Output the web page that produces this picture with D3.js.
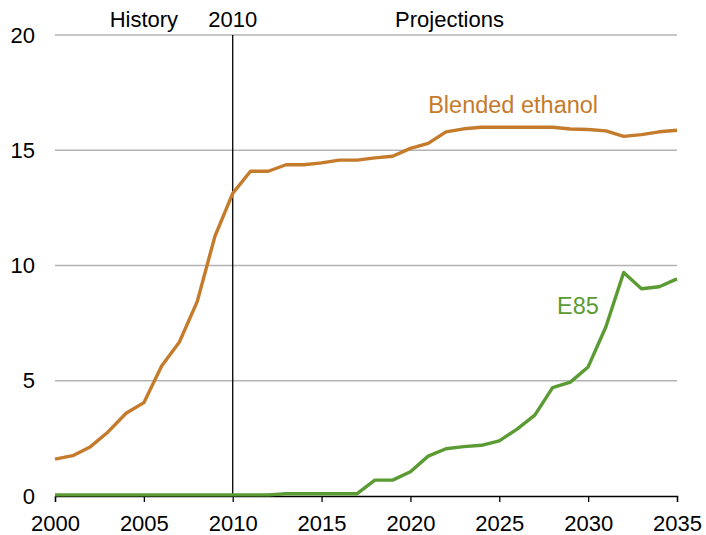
<!DOCTYPE html>
<html>
<head>
<meta charset="utf-8">
<script src="https://cdn.jsdelivr.net/npm/d3@7"></script>
<style>
  body { margin: 0; background: #fff; }
  text { font-family: "Liberation Sans", Arial, sans-serif; }
</style>
</head>
<body>
<div id="chart"></div>
<script>
// Years and series values
const years = d3.range(2000, 2036);
const blended = [1.6, 1.75, 2.14, 2.79, 3.59, 4.05, 5.64, 6.68, 8.43, 11.27,
    13.13, 14.09, 14.09, 14.37, 14.37, 14.45, 14.57, 14.57, 14.67, 14.74,
    15.08, 15.3, 15.8, 15.93, 16.0, 16.0, 16.0, 16.0, 16.0, 15.92,
    15.9, 15.84, 15.6, 15.68, 15.8, 15.87];
const e85 = [0.05, 0.05, 0.05, 0.05, 0.05, 0.05, 0.05, 0.05, 0.05, 0.05,
    0.05, 0.05, 0.05, 0.1, 0.1, 0.1, 0.1, 0.1, 0.69, 0.69,
    1.05, 1.73, 2.05, 2.14, 2.2, 2.39, 2.9, 3.51, 4.7, 4.94,
    5.6, 7.34, 9.7, 8.99, 9.08, 9.42];
const yTicks = [0, 5, 10, 15, 20];
const xTicks = [2000, 2005, 2010, 2015, 2020, 2025, 2030, 2035];

const width = 706;
const height = 535;
const margin = {top: 35, right: 29, bottom: 39, left: 55};
const w = width - margin.left - margin.right;
const h = height - margin.top - margin.bottom;

const x = d3.scaleLinear().domain([2000, 2035]).range([0, w]);
const y = d3.scaleLinear().domain([0, 20]).range([h, 0]);

const svg = d3.select("#chart")
    .append("svg")
    .attr("width", width)
    .attr("height", height)
    .append("g")
    .attr("transform", `translate(${margin.left}, ${margin.top})`);

// gridlines
svg.selectAll("line.grid")
    .data(yTicks.filter(d => d > 0))
    .enter()
    .append("line")
    .attr("class", "grid")
    .attr("x1", 0)
    .attr("x2", w)
    .attr("y1", d => y(d))
    .attr("y2", d => y(d))
    .style("stroke", "#b3b3b3")
    .style("stroke-width", 1.3);

// y labels
svg.selectAll("text.ylab")
    .data(yTicks)
    .enter()
    .append("text")
    .attr("class", "ylab")
    .attr("x", -20)
    .attr("y", d => y(d))
    .attr("dy", "0.35em")
    .attr("text-anchor", "end")
    .style("font-size", "22px")
    .text(d => d);

// x axis
const xAxis = svg.append("g")
    .attr("transform", `translate(0, ${h})`)
    .call(d3.axisBottom(x).tickValues(xTicks).tickFormat(d3.format("d")).tickSize(6).tickPadding(13));
xAxis.select(".domain").style("stroke", "#000").style("stroke-width", 1.3);
xAxis.selectAll(".tick line").style("stroke", "#000").style("stroke-width", 1.3);
xAxis.selectAll(".tick text")
    .style("font-size", "22px")
    .style("font-family", "Liberation Sans, Arial, sans-serif")
    .style("fill", "#000");

// 2010 divider
svg.append("line")
    .attr("x1", x(2010))
    .attr("x2", x(2010))
    .attr("y1", y(20))
    .attr("y2", y(0))
    .style("stroke", "#000")
    .style("stroke-width", 1.3);

// header labels
svg.append("text").attr("x", x(2005)).attr("y", -8).attr("text-anchor", "middle")
    .style("font-size", "22px").text("History");
svg.append("text").attr("x", x(2010)).attr("y", -8).attr("text-anchor", "middle")
    .style("font-size", "22px").text("2010");
svg.append("text").attr("x", x(2022.2)).attr("y", -8).attr("text-anchor", "middle")
    .style("font-size", "22px").text("Projections");

const line = d3.line()
    .x((d, i) => x(years[i]))
    .y(d => y(d));

svg.append("path")
    .datum(e85)
    .attr("d", line)
    .style("fill", "none")
    .style("stroke", "#5b9b33")
    .style("stroke-width", 3.4)
    .style("stroke-linejoin", "round");

svg.append("path")
    .datum(blended)
    .attr("d", line)
    .style("fill", "none")
    .style("stroke", "#c57b2c")
    .style("stroke-width", 3.4)
    .style("stroke-linejoin", "round");

svg.append("text")
    .attr("x", x(2021.0))
    .attr("y", y(16.6))
    .style("font-size", "23.5px")
    .style("fill", "#c57b2c")
    .text("Blended ethanol");

svg.append("text")
    .attr("x", x(2028.25))
    .attr("y", y(7.9))
    .style("font-size", "23.5px")
    .style("fill", "#5b9b33")
    .text("E85");
</script>
</body>
</html>
